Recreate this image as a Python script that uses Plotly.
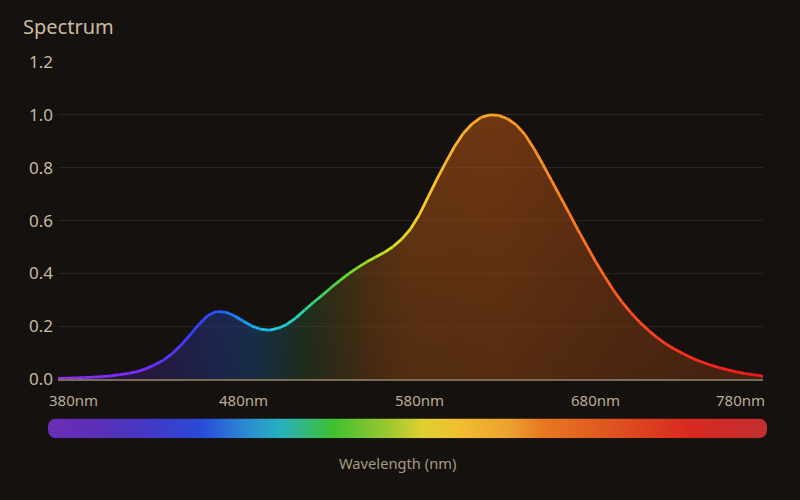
import numpy as np
import plotly.graph_objects as go

# ---------------- data ----------------
wavelengths = list(range(380, 781, 5))
intensity = [
    0.003, 0.004, 0.005, 0.006, 0.008, 0.010, 0.013, 0.017, 0.022, 0.029,   # 380-425
    0.040, 0.055, 0.073, 0.098, 0.130, 0.168, 0.208, 0.241, 0.256, 0.254,   # 430-475
    0.240, 0.220, 0.201, 0.189, 0.186, 0.193, 0.208, 0.232, 0.262, 0.291,   # 480-525
    0.318, 0.347, 0.374, 0.399, 0.422, 0.443, 0.461, 0.479, 0.501, 0.530,   # 530-575
    0.568, 0.622, 0.690, 0.757, 0.820, 0.880, 0.930, 0.966, 0.990, 1.000,   # 580-625
    0.998, 0.985, 0.962, 0.925, 0.873, 0.814, 0.752, 0.690, 0.628, 0.565,   # 630-675
    0.505, 0.445, 0.390, 0.338, 0.292, 0.252, 0.216, 0.185, 0.157, 0.133,   # 680-725
    0.113, 0.095, 0.079, 0.066, 0.054, 0.044, 0.035, 0.028, 0.021, 0.016,   # 730-775
    0.012,                                                                  # 780
]
x_tick_vals = [380, 480, 580, 680, 780]
x_tick_text = ["380nm", "480nm", "580nm", "680nm", "780nm"]
y_tick_vals = [0.0, 0.2, 0.4, 0.6, 0.8, 1.0, 1.2]
y_tick_text = ["0.0", "0.2", "0.4", "0.6", "0.8", "1.0", "1.2"]
title_text = "Spectrum"
axis_title_text = "Wavelength (nm)"

# ---------------- styles ----------------
BG = "#14110e"
FONT = "Noto Sans"
line_stops = [
    (380, (150, 45, 245)), (430, (115, 45, 255)), (455, (60, 60, 255)),
    (470, (35, 85, 255)), (488, (25, 160, 245)), (502, (30, 200, 225)),
    (518, (40, 210, 170)), (535, (70, 210, 70)), (550, (130, 220, 35)),
    (565, (195, 228, 30)), (585, (245, 212, 30)), (605, (250, 180, 40)),
    (630, (250, 160, 40)), (660, (255, 138, 30)), (690, (255, 100, 30)),
    (720, (255, 60, 30)), (750, (255, 35, 30)), (780, (240, 25, 25)),
]
fill_scale = [
    [0.00, "rgba(115,40,190,0.30)"],
    [0.15, "rgba(80,50,200,0.36)"],
    [0.225, "rgba(45,80,210,0.42)"],
    [0.27, "rgba(35,100,200,0.42)"],
    [0.30, "rgba(30,120,170,0.38)"],
    [0.35, "rgba(60,120,70,0.34)"],
    [0.40, "rgba(125,100,35,0.40)"],
    [0.45, "rgba(165,90,25,0.48)"],
    [0.50, "rgba(180,88,22,0.54)"],
    [0.625, "rgba(182,84,20,0.56)"],
    [0.80, "rgba(165,72,22,0.52)"],
    [1.00, "rgba(155,64,25,0.48)"],
]
shade_scale = [
    [0.0, "rgba(20,17,14,0.28)"],
    [1.0, "rgba(20,17,14,0.0)"],
]
bar_scale = [
    [0.000, "#6b2db3"], [0.072, "#5a30b8"], [0.118, "#4a35c0"],
    [0.211, "#2a48d8"], [0.281, "#2a90d0"], [0.323, "#28b0c0"],
    [0.396, "#40c030"], [0.476, "#a0c830"], [0.522, "#e0d030"],
    [0.569, "#f0c030"], [0.643, "#eca030"], [0.688, "#e87820"],
    [0.768, "#e05a20"], [0.893, "#d82820"], [1.000, "#c03030"],
]


def color_at(wl):
    ws = [s[0] for s in line_stops]
    cs = np.array([s[1] for s in line_stops], dtype=float)
    rgb = [np.interp(wl, ws, cs[:, k]) for k in range(3)]
    return "rgb(%d,%d,%d)" % tuple(int(round(v)) for v in rgb)


fig = go.Figure()

# gradient area under curve
fig.add_trace(go.Scatter(
    x=wavelengths, y=intensity, mode="lines", line=dict(width=0),
    fill="tozeroy", fillgradient=dict(type="horizontal", colorscale=fill_scale),
    hoverinfo="skip", showlegend=False,
))
# subtle vertical shading (darker near the baseline)
fig.add_trace(go.Scatter(
    x=wavelengths, y=intensity, mode="lines", line=dict(width=0),
    fill="tozeroy", fillgradient=dict(type="vertical", colorscale=shade_scale),
    hoverinfo="skip", showlegend=False,
))

# colored line, one segment per sampled interval
for i in range(len(wavelengths) - 1):
    mid = 0.5 * (wavelengths[i] + wavelengths[i + 1])
    fig.add_trace(go.Scatter(
        x=wavelengths[i:i + 2], y=intensity[i:i + 2], mode="lines",
        line=dict(color=color_at(mid), width=2.8),
        hoverinfo="skip", showlegend=False,
    ))

# rounded gradient wavelength bar (in its own 0..1 axes)
bar_w_px, bar_h_px, r_px = 719.0, 20.0, 8.0
rx, ry = r_px / bar_w_px, r_px / bar_h_px
t = np.linspace(0, np.pi / 2, 12)
bx, by = [], []
for cx, cy, a0 in [(1 - rx, 1 - ry, 0), (rx, 1 - ry, np.pi / 2),
                   (rx, ry, np.pi), (1 - rx, ry, 1.5 * np.pi)]:
    bx += list(cx + rx * np.cos(a0 + t))
    by += list(cy + ry * np.sin(a0 + t))
bx.append(bx[0]); by.append(by[0])
fig.add_trace(go.Scatter(
    x=bx, y=by, mode="lines", line=dict(width=0), fill="toself",
    fillgradient=dict(type="horizontal", colorscale=bar_scale),
    xaxis="x2", yaxis="y2", hoverinfo="skip", showlegend=False,
))

# x tick labels
annotations = []
for v, txt in zip(x_tick_vals, x_tick_text):
    if v == x_tick_vals[0]:
        anchor, shift = "left", -11
    elif v == x_tick_vals[-1]:
        anchor, shift = "right", 4
    else:
        anchor, shift = "center", 9
    annotations.append(dict(
        x=v, xref="x", y=0.1814, yref="paper", text=txt, showarrow=False,
        xanchor=anchor, yanchor="middle", xshift=shift,
        font=dict(family=FONT, size=15, color="#bcac96"),
    ))
annotations.append(dict(
    x=0.486, xref="paper", y=0.033, yref="paper", text=axis_title_text,
    showarrow=False, xanchor="center", yanchor="middle",
    font=dict(family=FONT, size=14.7, color="#a89a86"),
))

fig.update_layout(
    width=800, height=500,
    paper_bgcolor=BG, plot_bgcolor=BG,
    margin=dict(l=48, r=33, t=50, b=20),
    title=dict(text=title_text, x=23 / 800, xref="container", xanchor="left",
               y=1 - 27 / 500, yref="container", yanchor="middle",
               font=dict(family=FONT, size=20, color="#cdbba3")),
    xaxis=dict(range=[380, 780], domain=[10 / 719, 715 / 719],
               showgrid=False, zeroline=False, showticklabels=False,
               showline=True, linecolor="#7a6a58", linewidth=1.5,
               tickvals=x_tick_vals, ticks=""),
    yaxis=dict(range=[0, 1.2], domain=[0.2290, 0.9721],
               tickvals=y_tick_vals, ticktext=y_tick_text,
               showgrid=True, gridcolor="#2a2520", gridwidth=1,
               zeroline=False, ticks="", ticklabelstandoff=4,
               tickfont=dict(family=FONT, size=17, color="#c9b9a3")),
    xaxis2=dict(range=[0, 1], domain=[0, 1], anchor="y2", visible=False),
    yaxis2=dict(range=[0, 1], domain=[0.0907, 0.1372], anchor="x2", visible=False),
    annotations=annotations,
)

fig.write_html(
    "out.html",
    config={"displayModeBar": False},
    post_script="document.body.style.margin='0';document.body.style.background='%s';" % BG,
)
